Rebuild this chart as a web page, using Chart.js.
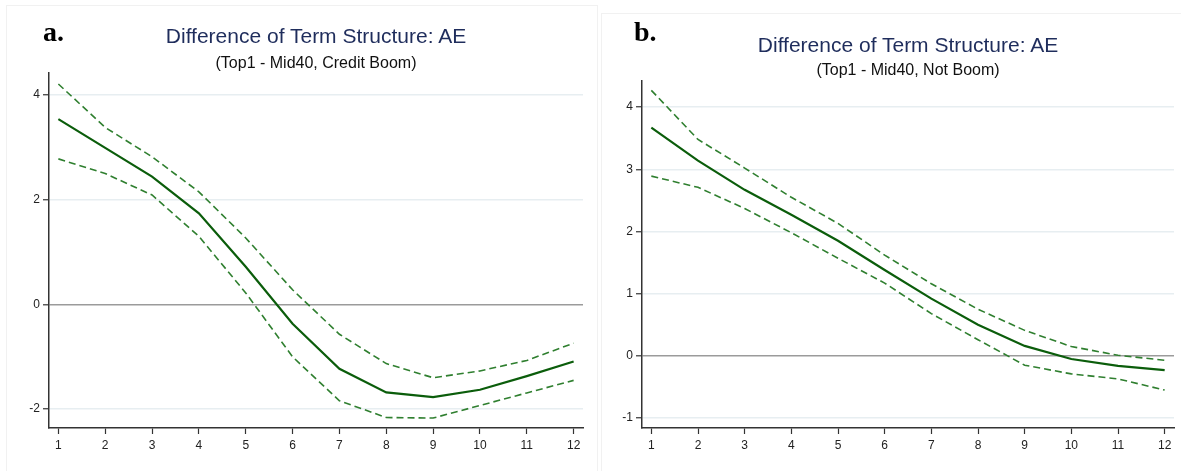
<!DOCTYPE html>
<html>
<head>
<meta charset="utf-8">
<script src="https://cdn.jsdelivr.net/npm/chart.js@4.4.1/dist/chart.umd.min.js"></script>
<style>
  html, body { margin:0; padding:0; background:#ffffff; }
  body { width:1181px; height:471px; position:relative; overflow:hidden; font-family:"Liberation Sans", Arial, sans-serif; }
  .panel { position:absolute; border:1px solid #f1f1f1; box-sizing:border-box; }
  .cv { position:absolute; }
  .lab { position:absolute; font-family:"Liberation Serif", "Times New Roman", serif; font-weight:bold; font-size:28px; line-height:1; color:#000; }
  .ttl { position:absolute; text-align:center; font-size:21px; line-height:1; color:#1f2d5c; white-space:nowrap; }
  .sub { position:absolute; text-align:center; font-size:16px; line-height:1; color:#111; white-space:nowrap; }
</style>
</head>
<body>
<div class="panel" style="left:6px; top:5px; width:592px; height:470px;"></div>
<div class="panel" style="left:601px; top:13px; width:585px; height:462px; border-right:none;"></div>

<canvas id="cA" class="cv" style="left:0px; top:0px;" width="597" height="471"></canvas>
<canvas id="cB" class="cv" style="left:600px; top:0px;" width="581" height="471"></canvas>

<div class="lab" style="left:43px; top:17.5px;">a.</div>
<div class="lab" style="left:634px; top:17.5px;">b.</div>

<div class="ttl" style="left:49px; width:534px; top:25px;">Difference of Term Structure: AE</div>
<div class="sub" style="left:49px; width:534px; top:54.5px;">(Top1 - Mid40, Credit Boom)</div>
<div class="ttl" style="left:642px; width:532px; top:34px;">Difference of Term Structure: AE</div>
<div class="sub" style="left:642px; width:532px; top:61.5px;">(Top1 - Mid40, Not Boom)</div>

<script>
// ---- data ----
const horizons = [1,2,3,4,5,6,7,8,9,10,11,12];
const xTickValues = [1,2,3,4,5,6,7,8,9,10,11,12];

// Panel a: Credit Boom
const boomMid   = [3.54, 2.99, 2.44, 1.74, 0.72, -0.37, -1.23, -1.68, -1.77, -1.63, -1.37, -1.09];
const boomUpper = [4.21, 3.38, 2.82, 2.15, 1.27, 0.28, -0.57, -1.13, -1.40, -1.27, -1.07, -0.74];
const boomLower = [2.78, 2.50, 2.09, 1.30, 0.22, -1.00, -1.84, -2.16, -2.17, -1.93, -1.69, -1.45];
const boomYTicks = [-2, 0, 2, 4];

// Panel b: Not Boom
const notMid   = [3.67, 3.14, 2.67, 2.27, 1.85, 1.38, 0.92, 0.50, 0.16, -0.05, -0.16, -0.23];
const notUpper = [4.27, 3.48, 3.02, 2.55, 2.13, 1.62, 1.16, 0.75, 0.41, 0.15, 0.01, -0.07];
const notLower = [2.89, 2.71, 2.37, 1.98, 1.57, 1.17, 0.68, 0.26, -0.15, -0.29, -0.37, -0.55];
const notYTicks = [-1, 0, 1, 2, 3, 4];

const solidColor = '#0b5d0b';
const dashColor = '#2f7f2f';
const gridColor = '#e7eef1';
const zeroColor = '#9b9b9b';
const axisColor = '#333333';
const tickFont = { family: '"Liberation Sans", Arial, sans-serif', size: 12 };

function pts(vals) { return horizons.map((h, i) => ({ x: h, y: vals[i] })); }

function makeChart(id, mid, up, lo, yTicks, yMin, yMax, pad, yWidth) {
  const ds = (vals, dashed) => ({
    data: pts(vals),
    borderColor: dashed ? dashColor : solidColor,
    borderWidth: dashed ? 1.6 : 2.2,
    borderDash: dashed ? [7, 4] : [],
    pointRadius: 0,
    tension: 0,
    fill: false
  });
  return new Chart(document.getElementById(id), {
    type: 'line',
    data: { datasets: [ds(up, true), ds(lo, true), ds(mid, false)] },
    options: {
      responsive: false,
      animation: false,
      layout: { padding: pad },
      plugins: { legend: { display: false }, title: { display: false }, tooltip: { enabled: false } },
      scales: {
        x: {
          type: 'linear', min: 0.8, max: 12.2,
          afterBuildTicks: s => { s.ticks = xTickValues.map(v => ({ value: v })); },
          afterFit: s => { s.height = 43; },
          grid: { drawOnChartArea: false, tickLength: 6, tickColor: axisColor, tickWidth: 1.2 },
          border: { display: true, color: axisColor, width: 1.5 },
          ticks: { color: '#222', font: tickFont, padding: 4, maxRotation: 0, callback: v => String(v) }
        },
        y: {
          type: 'linear', min: yMin, max: yMax,
          afterBuildTicks: s => { s.ticks = yTicks.map(v => ({ value: v })); },
          afterFit: s => { s.width = yWidth; },
          grid: {
            drawOnChartArea: true, tickLength: 6, tickWidth: 1.2, tickColor: axisColor,
            color: c => (c.tick && c.tick.value === 0) ? zeroColor : gridColor,
            lineWidth: c => (c.tick && c.tick.value === 0) ? 1.6 : 1.5
          },
          border: { display: true, color: axisColor, width: 1.5 },
          ticks: { color: '#222', font: tickFont, padding: 3, callback: v => String(v) }
        }
      }
    }
  });
}

makeChart('cA', boomMid, boomUpper, boomLower, boomYTicks, -2.36, 4.42,
  { top: 73, right: 14, left: 0, bottom: 0 }, 49);
makeChart('cB', notMid, notUpper, notLower, notYTicks, -1.16, 4.42,
  { top: 81, right: 7, left: 0, bottom: 0 }, 42);
</script>
</body>
</html>
